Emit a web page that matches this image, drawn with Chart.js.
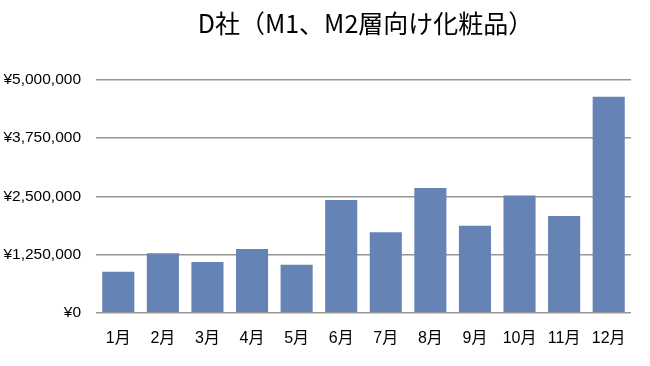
<!DOCTYPE html>
<html>
<head>
<meta charset="utf-8">
<script src="https://cdn.jsdelivr.net/npm/chart.js@4"></script>
<style>
  html, body { margin: 0; padding: 0; background: #fff; }
  #wrap { width: 650px; height: 366px; }
</style>
</head>
<body>
<div id="wrap"><canvas id="graficVendes"></canvas></div>
<script>
const titol = 'D社（M1、M2層向け化粧品）';
const mesos = ['1月', '2月', '3月', '4月', '5月', '6月', '7月', '8月', '9月', '10月', '11月', '12月'];
const vendes = [880000, 1280000, 1090000, 1370000, 1030000, 2420000, 1730000, 2680000, 1870000, 2520000, 2080000, 4640000];
const ticksY = [0, 1250000, 2500000, 3750000, 5000000];

const fontBase = "'Liberation Sans', Arial, 'Noto Sans CJK JP', sans-serif";

// centra el títol una mica a la dreta, com a l'original
const moureTitol = {
    id: 'moureTitol',
    afterLayout(chart) {
        if (chart.titleBlock) {
            chart.titleBlock.left = 81;
            chart.titleBlock.right = 650;
        }
    }
};

const ctx = document.getElementById('graficVendes').getContext('2d');
new Chart(ctx, {
    type: 'bar',
    data: {
        labels: mesos,
        datasets: [{
            label: 'D社',
            data: vendes,
            backgroundColor: '#6583b5',
            borderWidth: 0,
            barPercentage: 0.72,
            categoryPercentage: 1.0
        }]
    },
    options: {
        responsive: true,
        maintainAspectRatio: false,
        animation: false,
        layout: { padding: { top: 0, right: 19, bottom: 2, left: 0 } },
        plugins: {
            legend: { display: false },
            tooltip: { enabled: false },
            title: {
                display: true,
                text: titol,
                color: '#000',
                font: { family: "'Noto Sans CJK JP', sans-serif", size: 25, weight: 'normal' },
                padding: { top: 8, bottom: 42 }
            }
        },
        scales: {
            x: {
                grid: { display: false, drawTicks: false },
                border: { display: false },
                ticks: {
                    color: '#000',
                    padding: 16,
                    font: { family: fontBase, size: 16 }
                }
            },
            y: {
                min: 0,
                max: 5000000,
                afterBuildTicks(scale) {
                    scale.ticks = ticksY.map(v => ({ value: v }));
                },
                afterFit(scale) {
                    scale.width = 96;
                },
                grid: { color: '#959595', lineWidth: 1.5, drawTicks: false },
                border: { display: false },
                ticks: {
                    color: '#000',
                    padding: 15,
                    font: { family: fontBase, size: 15.5 },
                    callback: v => '¥' + v.toLocaleString('en-US')
                }
            }
        }
    },
    plugins: [moureTitol]
});
</script>
</body>
</html>
